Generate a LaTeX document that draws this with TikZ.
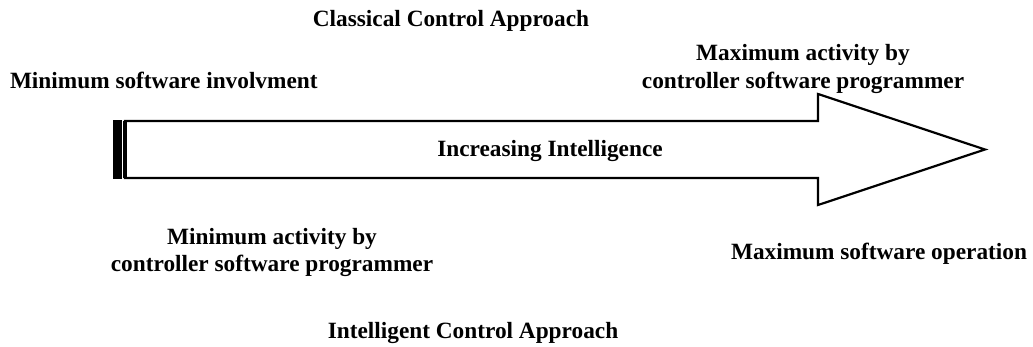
\documentclass[tikz,border=0pt]{standalone}
\usepackage{fontspec}
\setmainfont{Liberation Serif}
\begin{document}
\begin{tikzpicture}[x=1pt,y=-1pt,
  label/.style={inner sep=0pt,outer sep=0pt,font=\fontsize{23.3}{28}\selectfont\bfseries},
  outline/.style={draw=black,line width=2.2pt,line join=miter}]
\useasboundingbox (0,0) rectangle (1033,347);

% arrow body: shaft and head
\coordinate (s1) at (125,121);
\coordinate (h1) at (818,121);
\coordinate (h2) at (818,94);
\coordinate (tip) at (985,149.5);
\coordinate (h3) at (818,205);
\coordinate (h4) at (818,178);
\coordinate (s2) at (125,178);
\draw[outline] (s1) -- (h1) -- (h2) -- (tip) -- (h3) -- (h4) -- (s2) -- cycle;
\draw[line width=4pt] (s1) -- (s2);
% heavy tail bar
\fill (113,120) rectangle (121.5,179);

% labels
\node[label,anchor=base west] (minsw) at (10,89) {Minimum software involvment};
\node[label,anchor=base] (classic) at (451,26.5) {Classical Control Approach};
\node[label,anchor=base] (maxact1) at (803,61) {Maximum activity by};
\node[label,anchor=base] (maxact2) at (803,89) {controller software programmer};
\node[label,anchor=base] (incr) at (550,157) {Increasing Intelligence};
\node[label,anchor=base] (minact1) at (272,245) {Minimum activity by};
\node[label,anchor=base] (minact2) at (272,272) {controller software programmer};
\node[label,anchor=base east] (maxop) at (1027,260) {Maximum software operation};
\node[label,anchor=base] (intel) at (473,338) {Intelligent Control Approach};
\end{tikzpicture}
\end{document}
